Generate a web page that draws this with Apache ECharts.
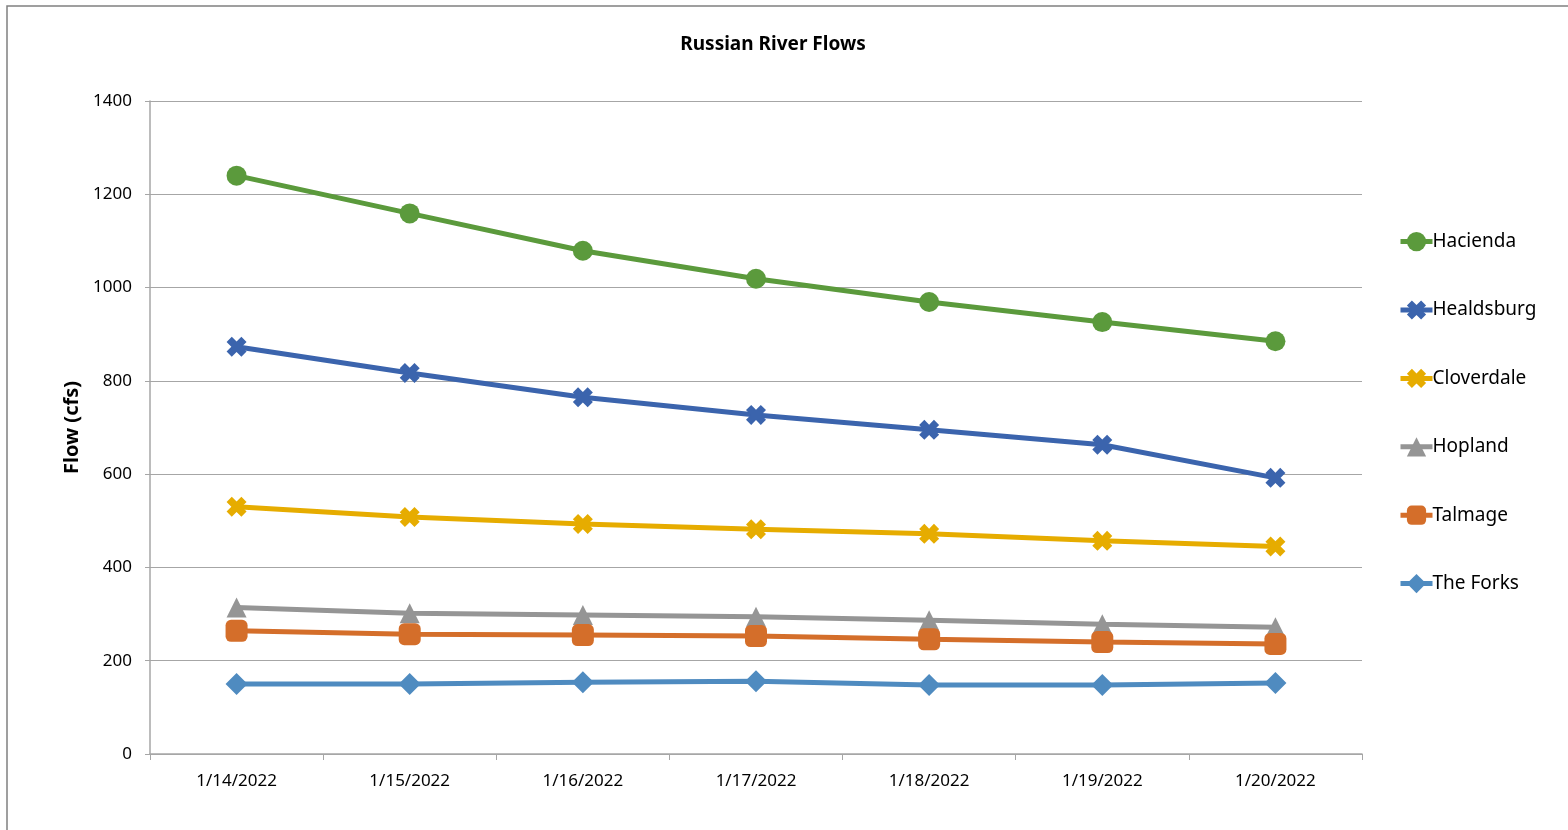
<!DOCTYPE html>
<html>
<head>
<meta charset="utf-8">
<script src="https://cdn.jsdelivr.net/npm/echarts@6/dist/echarts.min.js"></script>
<style>html,body{margin:0;padding:0;background:#fff}#c{width:1568px;height:830px}</style>
</head>
<body>
<div id="c"></div>
<script>
const categories = ['1/14/2022','1/15/2022','1/16/2022','1/17/2022','1/18/2022','1/19/2022','1/20/2022'];
const hacienda   = [1240, 1159, 1079, 1019, 969, 926, 885];
const healdsburg = [873, 817, 765, 727, 695, 663, 592];
const cloverdale = [530, 508, 493, 482, 472, 457, 445];
const hopland    = [314, 302, 298, 294, 287, 278, 272];
const talmage    = [264, 257, 255, 253, 246, 240, 236];
const theForks   = [150, 150, 154, 156, 148, 148, 152];
const yTicks = [0, 200, 400, 600, 800, 1000, 1200, 1400];

const crossPath = 'path://M2.6,0 L5,2.4 L7.4,0 L10,2.6 L7.6,5 L10,7.4 L7.4,10 L5,7.6 L2.6,10 L0,7.4 L2.4,5 L0,2.6 Z';
const font = '"Noto Sans", "Liberation Sans", sans-serif';

function mk(name, data, color, symbol, size){
  return {
    name, type:'line', data,
    symbol, symbolSize:size,
    lineStyle:{width:5,color},
    itemStyle:{color},
    emphasis:{disabled:true},
    z: 2
  };
}

const chart = echarts.init(document.getElementById('c'), null, {renderer:'canvas'});
chart.setOption({
  animation:false,
  backgroundColor:'#fff',
  graphic:[{type:'rect',shape:{x:7,y:6,width:1600,height:900},style:{fill:'none',stroke:'#808080',lineWidth:1.5},silent:true,z:-10}],
  title:{text:'Russian River Flows',left:768,top:30,textAlign:'center',
    textStyle:{fontFamily:font,fontSize:19,fontWeight:'bold',color:'#000'}},
  grid:{left:150,right:206,top:101,bottom:76,containLabel:false},
  legend:{
    orient:'vertical',left:1393,top:227,itemWidth:32,itemHeight:24,itemGap:49.2,
    lineStyle:{width:5},
    textStyle:{fontFamily:font,fontSize:19,color:'#000',padding:[0,0,0,-5]},
    data:['Hacienda','Healdsburg','Cloverdale','Hopland','Talmage','The Forks']
  },
  xAxis:{
    type:'category',data:categories,boundaryGap:true,
    axisLine:{lineStyle:{color:'#a6a6a6',width:1.5}},
    axisTick:{show:true,length:6,lineStyle:{color:'#a6a6a6'}},
    axisLabel:{fontFamily:font,fontSize:17,color:'#000',margin:19},
    splitLine:{show:false}
  },
  yAxis:{
    type:'value',min:yTicks[0],max:yTicks[yTicks.length-1],interval:200,
    name:'Flow (cfs)',nameLocation:'middle',nameGap:64,nameRotate:90,
    nameTextStyle:{fontFamily:font,fontSize:20,fontWeight:'bold',color:'#000'},
    axisLine:{show:true,lineStyle:{color:'#a6a6a6',width:1.5}},
    axisTick:{show:true,length:5,lineStyle:{color:'#a6a6a6'}},
    axisLabel:{fontFamily:font,fontSize:17,color:'#000',margin:18,formatter:v=>String(v)},
    splitLine:{lineStyle:{color:'#a6a6a6',width:1}}
  },
  series:[
    mk('Hacienda',hacienda,'#5b9a3c','circle',20),
    mk('Healdsburg',healdsburg,'#3b64ad',crossPath,20),
    mk('Cloverdale',cloverdale,'#e6ac00',crossPath,20),
    mk('Hopland',hopland,'#959595','triangle',20),
    mk('Talmage',talmage,'#d46e2a','roundRect',22),
    mk('The Forks',theForks,'#4f8bc0','diamond',22)
  ]
});
</script>
</body>
</html>
